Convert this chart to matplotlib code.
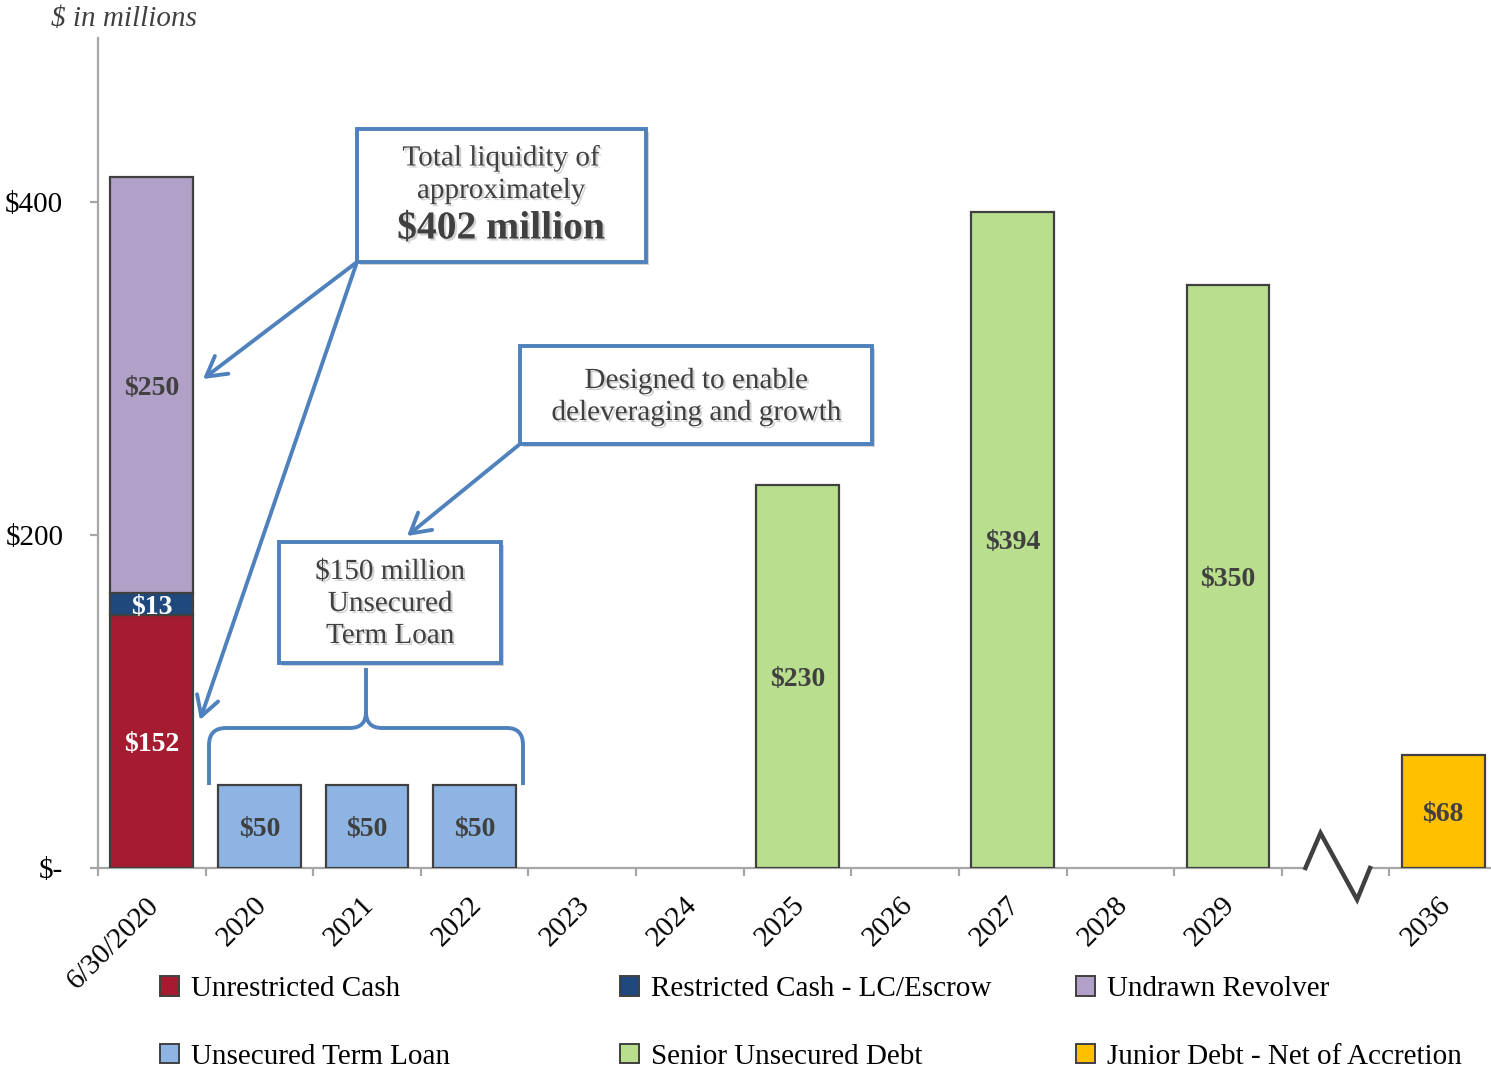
import matplotlib
matplotlib.use("Agg")
import matplotlib.pyplot as plt
import matplotlib.transforms as mtransforms
import matplotlib.patheffects as pe
from matplotlib.patches import Rectangle, PathPatch, Patch, FancyArrowPatch
from matplotlib.path import Path
import numpy as np

# ---------------- data ----------------
categories = ['6/30/2020', '2020', '2021', '2022', '2023', '2024', '2025',
              '2026', '2027', '2028', '2029', '', '2036']
unrestricted_cash = [152, 0, 0, 0, 0, 0, 0, 0, 0, 0, 0, 0, 0]
restricted_cash = [13, 0, 0, 0, 0, 0, 0, 0, 0, 0, 0, 0, 0]
undrawn_revolver = [250, 0, 0, 0, 0, 0, 0, 0, 0, 0, 0, 0, 0]
term_loan = [0, 50, 50, 50, 0, 0, 0, 0, 0, 0, 0, 0, 0]
senior_unsecured = [0, 0, 0, 0, 0, 0, 230, 0, 394, 0, 350, 0, 0]
junior_debt = [0, 0, 0, 0, 0, 0, 0, 0, 0, 0, 0, 0, 68]
y_ticks = [0, 200, 400]
y_ticklabels = ['$-', '$200', '$400']

series_names = ['Unrestricted Cash', 'Restricted Cash - LC/Escrow', 'Undrawn Revolver',
                'Unsecured Term Loan', 'Senior Unsecured Debt', 'Junior Debt - Net of Accretion']
colors = ['#A51C30', '#1F497D', '#B1A0C7', '#8DB4E2', '#B9DE8E', '#FFC000']

# ---------------- style ----------------
plt.rcParams['font.family'] = ['Liberation Serif', 'DejaVu Serif']
TXT = '#404040'
EDGE = '#404040'
BLUE = '#4F81BD'
AX = '#A6A6A6'
FS = 21

W, H = 1491, 1068
fig = plt.figure(figsize=(W / 100, H / 100), dpi=100)
ax = fig.add_axes([98 / W, 200 / H, (1497 - 98) / W, (868 - 38) / H])
ax.set_xlim(-0.5, 12.5)
ax.set_ylim(0, 498.5)

x = np.arange(len(categories))
bw = 0.77


def draw(vals, bottom, color, label_color):
    vals = np.array(vals, dtype=float)
    bottom = np.array(bottom, dtype=float)
    m = vals > 0
    ax.bar(x[m], vals[m], bw, bottom=bottom[m], color=color,
           edgecolor=EDGE, linewidth=1.6, zorder=3)
    for xi, v, b in zip(x[m], vals[m], bottom[m]):
        ax.text(xi, b + v / 2, f'${v:.0f}', ha='center', va='center_baseline',
                color=label_color, fontsize=FS - 1, fontweight='bold', zorder=4)


zeros = np.zeros(len(categories))
b1 = np.array(unrestricted_cash, float)
b2 = b1 + np.array(restricted_cash, float)
draw(unrestricted_cash, zeros, colors[0], 'white')
draw(restricted_cash, b1, colors[1], 'white')
draw(undrawn_revolver, b2, colors[2], TXT)
draw(term_loan, zeros, colors[3], TXT)
draw(senior_unsecured, zeros, colors[4], TXT)
draw(junior_debt, zeros, colors[5], TXT)

# ---------------- axes ----------------
for s in ['top', 'right']:
    ax.spines[s].set_visible(False)
for s in ['left', 'bottom']:
    ax.spines[s].set_color(AX)
    ax.spines[s].set_linewidth(1.6)

ax.set_yticks(y_ticks)
ax.set_yticklabels(y_ticklabels, fontsize=FS, color='black')
ax.tick_params(axis='y', direction='out', length=6, width=1.6, color=AX, pad=19)

ax.set_xticks(np.arange(-0.5, 12.6, 1.0))
ax.set_xticklabels([])
ax.tick_params(axis='x', which='major', direction='out', length=6, width=1.6, color=AX)
ax.set_xticks(x + 0.03, minor=True)
ax.set_xticklabels(categories, minor=True, rotation=45, ha='right', va='center',
                   rotation_mode='anchor', fontsize=FS, color='black')
ax.tick_params(axis='x', which='minor', length=0, pad=24)

# axis break zigzag
ax.plot([10.70, 11.34], [0, 0], color='white', lw=4, zorder=5, clip_on=False,
        solid_capstyle='butt')
ax.plot([10.72, 10.86, 11.20, 11.32], [0, 21, -19, 0], color=EDGE, lw=3.2,
        zorder=6, clip_on=False, solid_joinstyle='miter')

# ---------------- annotations (positioned in reference pixel space) ----------------
ref = mtransforms.Affine2D().scale(1 / W, -1 / H).translate(0, 1) + fig.transFigure
shadow = [pe.SimplePatchShadow(offset=(1.5, -1.5), shadow_rgbFace='#808080', alpha=0.35),
          pe.Normal()]

fig.text(124, 19, '$ in millions', transform=ref, fontsize=FS, style='italic',
         color=TXT, ha='center', va='center')


def box(x0, y0, x1, y1):
    r = Rectangle((x0, y1), x1 - x0, y0 - y1, transform=ref, fill=True,
                  facecolor='white', edgecolor=BLUE, lw=2.8, zorder=10,
                  path_effects=[pe.SimplePatchShadow(offset=(2, -2), alpha=0.25), pe.Normal()])
    fig.add_artist(r)


def line_text(xc, yc, s, **kw):
    t = fig.text(xc, yc, s, transform=ref, ha='center', va='center', color=TXT,
                 zorder=11, **kw)
    t.set_path_effects(shadow)


def arrow(x0, y0, x1, y1):
    a = FancyArrowPatch(
        (x0, y0), (x1, y1), transform=ref,
        arrowstyle='->,head_length=14,head_width=8', color=BLUE, lw=2.8,
        shrinkA=0, shrinkB=0, zorder=9, mutation_scale=1)
    fig.add_artist(a)


box(357, 129, 646, 262)
line_text(501, 158, 'Total liquidity of', fontsize=FS)
line_text(501, 191, 'approximately', fontsize=FS)
line_text(501, 229, '$402 million', fontsize=28.5, fontweight='bold')
arrow(357, 262, 203, 379)
arrow(357, 262, 200, 720)

box(520, 346, 872, 444)
line_text(696, 381, 'Designed to enable', fontsize=FS)
line_text(696, 413, 'deleveraging and growth', fontsize=FS)
arrow(520, 444, 407, 536)

box(279, 542, 501, 663)
line_text(390, 572, '$150 million', fontsize=FS)
line_text(390, 604, 'Unsecured', fontsize=FS)
line_text(390, 636, 'Term Loan', fontsize=FS)

# curly brace
verts = [(209, 785), (209, 745), (209, 728), (226, 728), (350, 728),
         (366, 728), (366, 712), (366, 668),
         (366, 712), (366, 728), (382, 728), (507, 728), (523, 728), (523, 745), (523, 785)]
codes = [Path.MOVETO, Path.LINETO, Path.CURVE3, Path.CURVE3, Path.LINETO,
         Path.CURVE3, Path.CURVE3, Path.LINETO,
         Path.MOVETO, Path.CURVE3, Path.CURVE3, Path.LINETO, Path.CURVE3, Path.CURVE3, Path.LINETO]
brace = PathPatch(Path(verts, codes), transform=ref, fill=False, edgecolor=BLUE,
                  lw=2.8, zorder=9, capstyle='butt')
fig.add_artist(brace)

# ---------------- legend ----------------
handles = [Patch(facecolor=c, edgecolor=EDGE, linewidth=1.4) for c in colors]
col_x = [160, 620, 1076]
for i, cx in enumerate(col_x):
    fig.legend([handles[i], handles[i + 3]], [series_names[i], series_names[i + 3]],
               loc='center left', bbox_to_anchor=(cx / W, 1 - 1023 / H),
               frameon=False, fontsize=FS, handlelength=0.65, handleheight=0.65,
               handletextpad=0.4, labelspacing=1.42, borderpad=0, borderaxespad=0)

fig.savefig('out.png', dpi=100)
